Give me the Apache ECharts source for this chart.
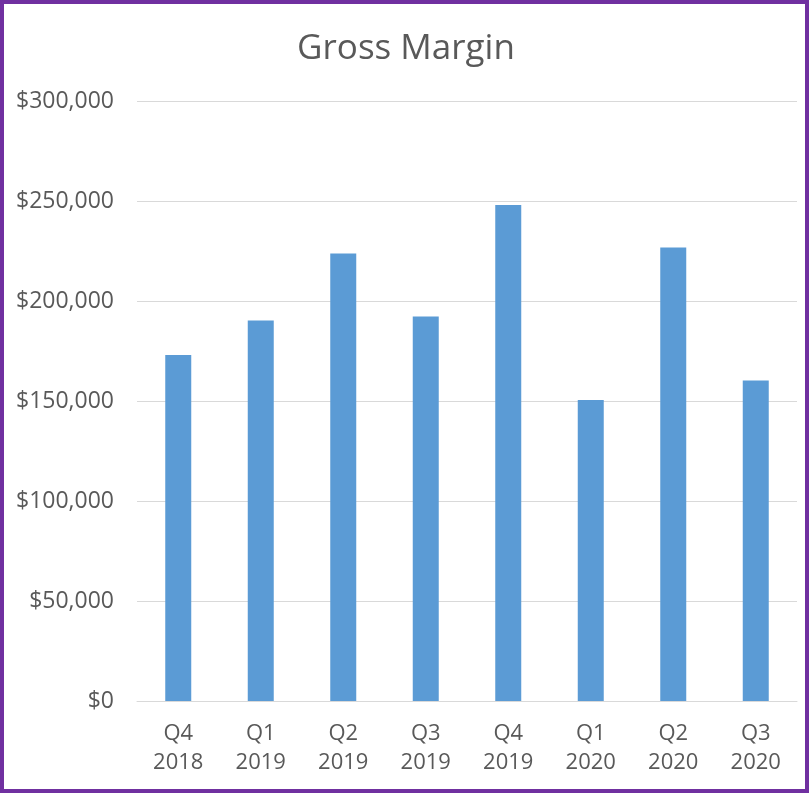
<!DOCTYPE html>
<html>
<head>
<meta charset="utf-8">
<script src="https://cdn.jsdelivr.net/npm/echarts@6/dist/echarts.min.js"></script>
<style>
  html, body { margin: 0; padding: 0; background: #fff; }
  #chart { width: 812px; height: 796px; }
</style>
</head>
<body>
<div id="chart"></div>
<script>
var quarters = ['Q4\n2018', 'Q1\n2019', 'Q2\n2019', 'Q3\n2019', 'Q4\n2019', 'Q1\n2020', 'Q2\n2020', 'Q3\n2020'];
var grossMargin = [173000, 190300, 223700, 192200, 248000, 150500, 226700, 160200];

var myChart = echarts.init(document.getElementById('chart'));
var font = '"Open Sans", "Noto Sans", sans-serif';

var option = {
    backgroundColor: '#ffffff',
    title: {
        text: 'Gross Margin',
        left: 'center',
        top: 27,
        textStyle: { fontFamily: font, fontSize: 35, fontWeight: 'normal', color: '#595959' }
    },
    graphic: [{
        type: 'rect',
        shape: { x: 2, y: 2, width: 805, height: 789 },
        style: { fill: 'none', stroke: '#7030a0', lineWidth: 4 },
        silent: true
    }],
    grid: { left: 137, right: 15, top: 101, bottom: 95 },
    xAxis: {
        type: 'category',
        data: quarters,
        axisLine: { lineStyle: { color: '#d9d9d9', width: 1 } },
        axisTick: { show: false },
        axisLabel: { fontFamily: font, fontSize: 22, color: '#595959', lineHeight: 29, margin: 18 }
    },
    yAxis: {
        type: 'value',
        min: 0,
        max: 300000,
        interval: 50000,
        axisLine: { show: false },
        axisTick: { show: false },
        splitLine: { lineStyle: { color: '#d9d9d9', width: 1 } },
        axisLabel: {
            fontFamily: font, fontSize: 23, color: '#595959', margin: 23,
            formatter: function (v) {
                return '$' + v.toLocaleString('en-US');
            }
        }
    },
    series: [{
        name: 'Gross Margin',
        type: 'bar',
        data: grossMargin,
        barWidth: 26,
        itemStyle: { color: '#5b9bd5' }
    }]
};

myChart.setOption(option);
</script>
</body>
</html>
